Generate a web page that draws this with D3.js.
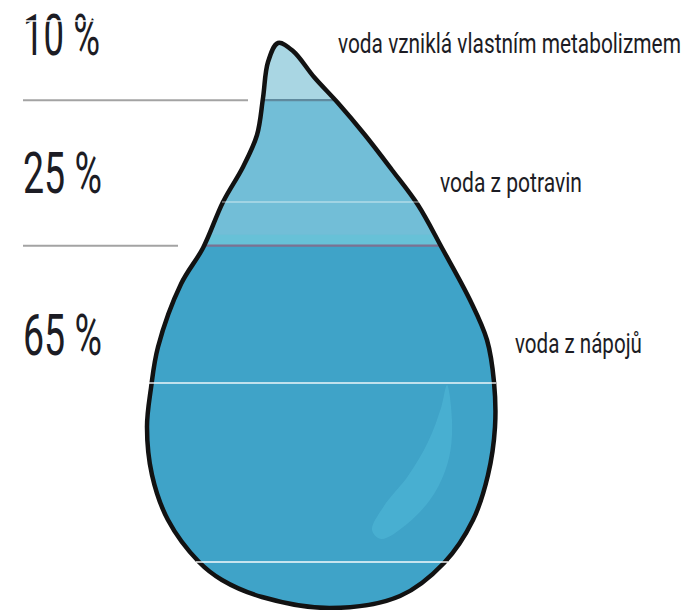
<!DOCTYPE html>
<html>
<head>
<meta charset="utf-8">
<script src="https://cdn.jsdelivr.net/npm/d3@7"></script>
<style>
  html, body { margin: 0; padding: 0; background: #ffffff; }
  svg { display: block; }
</style>
</head>
<body>
<svg id="chart" width="697" height="610"></svg>
<script>
// Where the body's daily water comes from
const sources = ["voda vzniklá vlastním metabolizmem", "voda z potravin", "voda z nápojů"];
const shares = [10, 25, 65];
const shareLabels = ["10 %", "25 %", "65 %"];

// Styling
const layerColors = ["#a9d6e3", "#72bed7", "#3fa3c8"];
const boundaryColors = ["#5f8a9e", "#7c7191"];
const font = "Roboto, 'Liberation Sans', 'Noto Sans', sans-serif";

const svg = d3.select("#chart");

// Fill level of the drop: cumulative share (top = 0 %) -> vertical position
const level = d3.scaleLinear().domain([0, 100]).range([42, 624]);

const starts = d3.cumsum([0].concat(shares.slice(0, -1)));
const layers = shares.map((v, i) => ({
  name: sources[i], label: shareLabels[i], value: v,
  from: starts[i], to: starts[i] + v, color: layerColors[i]
}));

// Outline of the drop (clockwise from the tip)
const outline = [
  [278, 43], [293, 51], [314, 77], [338, 103], [365, 135], [392, 170],
  [418, 205], [442, 248], [470, 300], [487, 340], [494, 382], [495, 427], [488, 475],
  [473, 520], [444, 563], [400, 596], [330, 608], [262, 597], [222, 580], [199, 562],
  [168, 520], [152, 475], [147, 427], [151, 388], [158, 347], [181, 284], [203, 248],
  [223, 202], [243, 167], [257, 135], [263, 98], [268, 62]
];
const dropPath = d3.line().curve(d3.curveCatmullRomClosed.alpha(0.5))(outline);

const defs = svg.append("defs");
defs.append("clipPath").attr("id", "drop-clip")
  .append("path").attr("d", dropPath);

const inner = svg.append("g").attr("clip-path", "url(#drop-clip)");

// Water layers
inner.selectAll("rect.layer")
  .data(layers)
  .join("rect")
  .attr("class", "layer")
  .attr("x", 130).attr("width", 380)
  .attr("y", d => level(d.from))
  .attr("height", d => level(d.to) - level(d.from))
  .attr("fill", d => d.color);

// brighter rim just above the surface of the lowest layer
inner.append("rect")
  .attr("x", 130).attr("width", 380)
  .attr("y", level(layers[2].from) - 11)
  .attr("height", 11)
  .attr("fill", "#5fc3d7").attr("opacity", 0.55);

// surface lines between layers
inner.selectAll("line.surface")
  .data(layers.slice(1))
  .join("line")
  .attr("class", "surface")
  .attr("x1", 130).attr("x2", 510)
  .attr("y1", d => level(d.from)).attr("y2", d => level(d.from))
  .attr("stroke", (d, i) => boundaryColors[i])
  .attr("stroke-width", 2.2);

// glint on the right side of the drop
const glint = [
  [447, 385], [452, 420], [449, 458], [434, 494], [407, 524], [381, 539],
  [372, 530], [384, 506], [408, 476], [428, 442], [441, 408]
];
inner.append("path")
  .attr("d", d3.line().curve(d3.curveCatmullRomClosed.alpha(0.5))(glint))
  .attr("fill", "#4db3d4").attr("opacity", 0.7);

// drop outline
svg.append("path")
  .attr("d", dropPath)
  .attr("fill", "none")
  .attr("stroke", "#121212")
  .attr("stroke-width", 4.5)
  .attr("stroke-linejoin", "round");

// thin light streaks across the drawing
const streaks = [
  { y: 383, x1: 148, x2: 496, o: 0.9 },
  { y: 562, x1: 196, x2: 448, o: 0.95 },
  { y: 202, x1: 222, x2: 419, o: 0.45 }
];
svg.selectAll("line.streak")
  .data(streaks)
  .join("line")
  .attr("class", "streak")
  .attr("x1", d => d.x1).attr("x2", d => d.x2)
  .attr("y1", d => d.y).attr("y2", d => d.y)
  .attr("stroke", "#ffffff").attr("stroke-opacity", d => d.o)
  .attr("stroke-width", 1.3);

// gray leader lines on the left at each layer boundary
const leaderEnds = [248, 178];
svg.selectAll("line.leader")
  .data(layers.slice(1))
  .join("line")
  .attr("class", "leader")
  .attr("x1", 23).attr("x2", (d, i) => leaderEnds[i])
  .attr("y1", d => level(d.from)).attr("y2", d => level(d.from))
  .attr("stroke", "#a3a3a3").attr("stroke-width", 2);

// condensed text: squeeze each label horizontally to its target width
function condensed(sel, xs, ys, widths) {
  sel.each(function(d, i) {
    const len = this.getComputedTextLength();
    const sx = widths[i] / len;
    d3.select(this).attr("transform", `translate(${xs[i]},${ys[i]}) scale(${sx},1)`);
  });
}

// percentage labels
const pctBaselines = [55, 193, 355];
const pctWidths = [77, 79, 79];
svg.selectAll("text.pct")
  .data(layers)
  .join("text")
  .attr("class", "pct")
  .attr("font-family", font)
  .attr("font-size", 58)
  .attr("fill", "#1c1c24")
  .text(d => d.label)
  .call(condensed, [23, 23, 23], pctBaselines, pctWidths);

// source labels
const srcX = [338, 440, 515];
const srcBaselines = [53, 192, 353];
const srcWidths = [343, 142, 127];
svg.selectAll("text.src")
  .data(layers)
  .join("text")
  .attr("class", "src")
  .attr("font-family", font)
  .attr("font-size", 28)
  .attr("fill", "#1c1c24")
  .text(d => d.name)
  .call(condensed, srcX, srcBaselines, srcWidths);

// streak crossing the first percentage label
svg.append("line")
  .attr("x1", 25).attr("x2", 96).attr("y1", 21).attr("y2", 21)
  .attr("stroke", "#ffffff").attr("stroke-width", 1.3);
</script>
</body>
</html>
